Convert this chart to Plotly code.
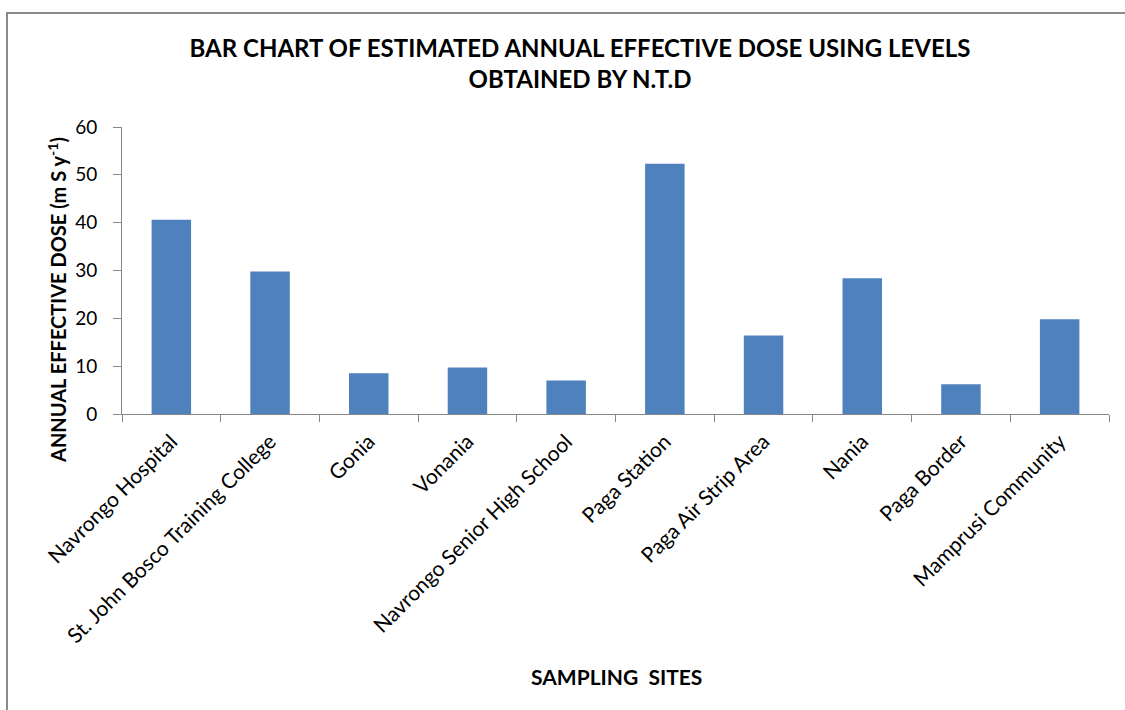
import plotly.graph_objects as go

# Sampling sites and their estimated annual effective dose (mSv/y)
sites = [
    "Navrongo Hospital",
    "St. John Bosco Training College",
    "Gonia",
    "Vonania",
    "Navrongo Senior High School",
    "Paga Station",
    "Paga Air Strip Area",
    "Nania",
    "Paga Border",
    "Mamprusi Community",
]
dose = [40.6, 29.8, 8.5, 9.7, 7.0, 52.3, 16.4, 28.4, 6.2, 19.8]
y_ticks = [0, 10, 20, 30, 40, 50, 60]

FONT = "Lato, 'Open Sans', sans-serif"
AXIS_GREY = "#868686"

W, H = 1125, 710
ML, MR, MT, MB = 122, 16, 127, 296
PW, PH = W - ML - MR, H - MT - MB


def px_x(p):
    return (p - ML) / PW


def px_y(p):
    return (H - MB - p) / PH


fig = go.Figure(
    go.Bar(
        x=sites,
        y=dose,
        marker=dict(color="#4F81BD", line=dict(width=0)),
        showlegend=False,
    )
)

fig.update_layout(
    width=W,
    height=H,
    margin=dict(l=ML, r=MR, t=MT, b=MB),
    paper_bgcolor="white",
    plot_bgcolor="white",
    bargap=0.6,
    font=dict(family=FONT, color="black", size=18),
    title=dict(
        text="BAR CHART OF ESTIMATED ANNUAL EFFECTIVE DOSE USING LEVELS<br>OBTAINED BY N.T.D",
        x=580 / W,
        xanchor="center",
        xref="container",
        y=1 - 57 / H,
        yanchor="middle",
        yref="container",
        font=dict(family=FONT, size=24, color="black", weight="bold"),
    ),
    xaxis=dict(
        showline=True,
        linecolor=AXIS_GREY,
        linewidth=1,
        ticks="outside",
        tickson="boundaries",
        ticklen=7,
        tickcolor=AXIS_GREY,
        tickangle=-45,
        ticklabelstandoff=6,
        tickfont=dict(family=FONT, size=21, color="black"),
        showgrid=False,
        zeroline=False,
    ),
    yaxis=dict(
        range=[0, 60],
        tickvals=y_ticks,
        showline=True,
        linecolor=AXIS_GREY,
        linewidth=1,
        ticks="outside",
        ticklen=8,
        tickcolor=AXIS_GREY,
        ticklabelstandoff=12,
        tickfont=dict(family=FONT, size=19, color="black"),
        showgrid=False,
        zeroline=False,
    ),
    annotations=[
        dict(
            text="ANNUAL EFFECTIVE DOSE (m S y<sup>-1</sup>)",
            textangle=-90,
            x=px_x(57),
            y=px_y(300),
            xref="paper",
            yref="paper",
            xanchor="center",
            yanchor="middle",
            showarrow=False,
            font=dict(family=FONT, size=20, color="black", weight="bold"),
        ),
        dict(
            text="SAMPLING  SITES",
            x=px_x(616),
            y=px_y(676),
            xref="paper",
            yref="paper",
            xanchor="center",
            yanchor="middle",
            showarrow=False,
            font=dict(family=FONT, size=21, color="black", weight="bold"),
        ),
    ],
    shapes=[
        # outer chart-area frame
        dict(
            type="rect",
            xref="paper",
            yref="paper",
            x0=px_x(7),
            x1=px_x(W + 20),
            y0=px_y(H + 20),
            y1=px_y(13),
            line=dict(color="#8a8a8a", width=2),
            fillcolor="rgba(0,0,0,0)",
            layer="below",
        )
    ],
)

fig.write_html("out.html")
